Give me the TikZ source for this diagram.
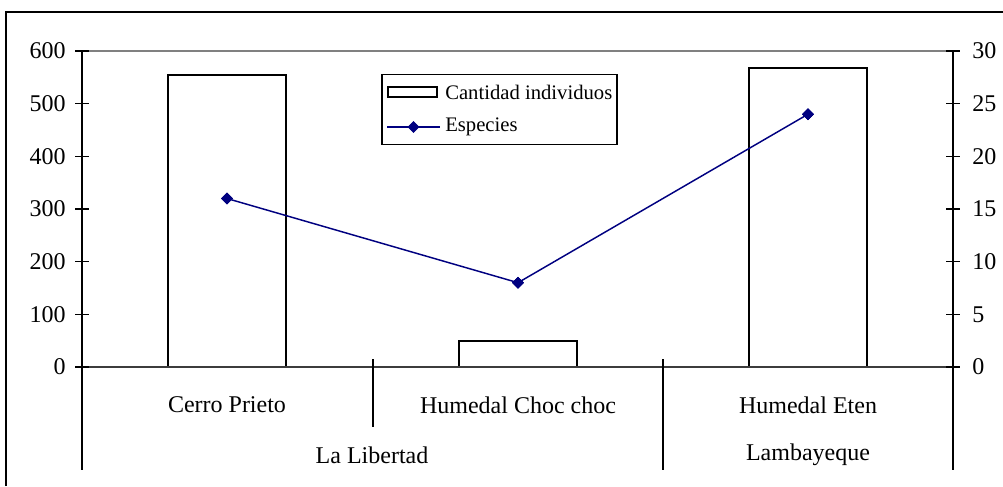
\documentclass[tikz,border=0pt]{standalone}
\usepackage{fontspec}
\setmainfont{Liberation Serif}
\usetikzlibrary{shapes.geometric}
\definecolor{navy}{RGB}{0,0,128}
\definecolor{axgray}{RGB}{60,60,60}
\begin{document}
\begin{tikzpicture}[x=0.75pt,y=-0.75pt,
  ax/.style={font=\fontsize{18}{20}\selectfont, inner sep=0pt},
  lg/.style={font=\fontsize{15.5}{18}\selectfont, inner sep=0pt, anchor=west},
  barbox/.style={draw=black, fill=white, line width=1.5pt},
  axline/.style={draw=black, line width=1pt},
  tick/.style={draw=black, line width=0.9pt},
  mk/.style={diamond, fill=navy, draw=navy, inner sep=0pt, minimum width=8.5pt, minimum height=8.5pt},
  series/.style={draw=navy, line width=1.1pt}]
\useasboundingbox (0,0) rectangle (1003,486);
% outer frame (partly outside the picture)
\draw[line width=1.6pt] (6,486) -- (6,12) -- (1003,12);
% plot area top border
\draw[gray, line width=0.9pt] (82,51) -- (953,51);
% bars
\draw[barbox] (168,367) rectangle (286,75);
\draw[barbox] (459,367) rectangle (577,341);
\draw[barbox] (749,367) rectangle (867,68);
% axes
\draw[axline] (82,51) -- (82,470);
\draw[axline] (953,51) -- (953,470);
\draw[draw=axgray, line width=1.4pt] (82,367) -- (953,367);
\draw[axline] (373,359) -- (373,427);
\draw[axline] (663,359) -- (663,470);
% left ticks and labels
\foreach \v/\n in {0/0,100/1,200/2,300/3,400/4,500/5,600/6}{
  \pgfmathsetmacro{\yy}{367-\v*0.52667}
  \draw[tick] (75,\yy) -- (89,\yy);
  \node[ax, anchor=east] (l\n) at (66,\yy) {\v};
}
% right ticks and labels
\foreach \v/\n in {0/0,5/1,10/2,15/3,20/4,25/5,30/6}{
  \pgfmathsetmacro{\yy}{367-\v*10.5333}
  \draw[tick] (946,\yy) -- (960,\yy);
  \node[ax, anchor=west] (r\n) at (972,\yy) {\v};
}
% category labels
\node[ax] (c1) at (227,405) {Cerro Prieto};
\node[ax] (c2) at (518,405) {Humedal Choc choc};
\node[ax] (c3) at (808,405) {Humedal Eten};
\node[ax] (g1) at (372,455) {La Libertad};
\node[ax] (g2) at (808,455) {Lambayeque};
% series
\node[mk] (p1) at (227,198.5) {};
\node[mk] (p2) at (518,282.7) {};
\node[mk] (p3) at (808,114.2) {};
\draw[series] (p1.center) -- (p2.center) -- (p3.center);
\node[mk] at (p1) {};
\node[mk] at (p2) {};
\node[mk] at (p3) {};
% legend
\node[draw=black, line width=0.8pt, fill=white, minimum width=176.25pt, minimum height=52.5pt, inner sep=0pt] (leg) at (499.5,109.5) {};
\node[draw=black, line width=1.2pt, minimum width=36.75pt, minimum height=7.5pt, inner sep=0pt] (lbar) at (412.5,92) {};
\node[lg] (t1) at (445,92) {Cantidad individuos};
\coordinate (la) at (387,127);
\coordinate (lb) at (440,127);
\draw[series] (la) -- (lb);
\node[mk] (lm) at (413.5,127) {};
\node[lg] (t2) at (445,127) {Especies};
\end{tikzpicture}
\end{document}
